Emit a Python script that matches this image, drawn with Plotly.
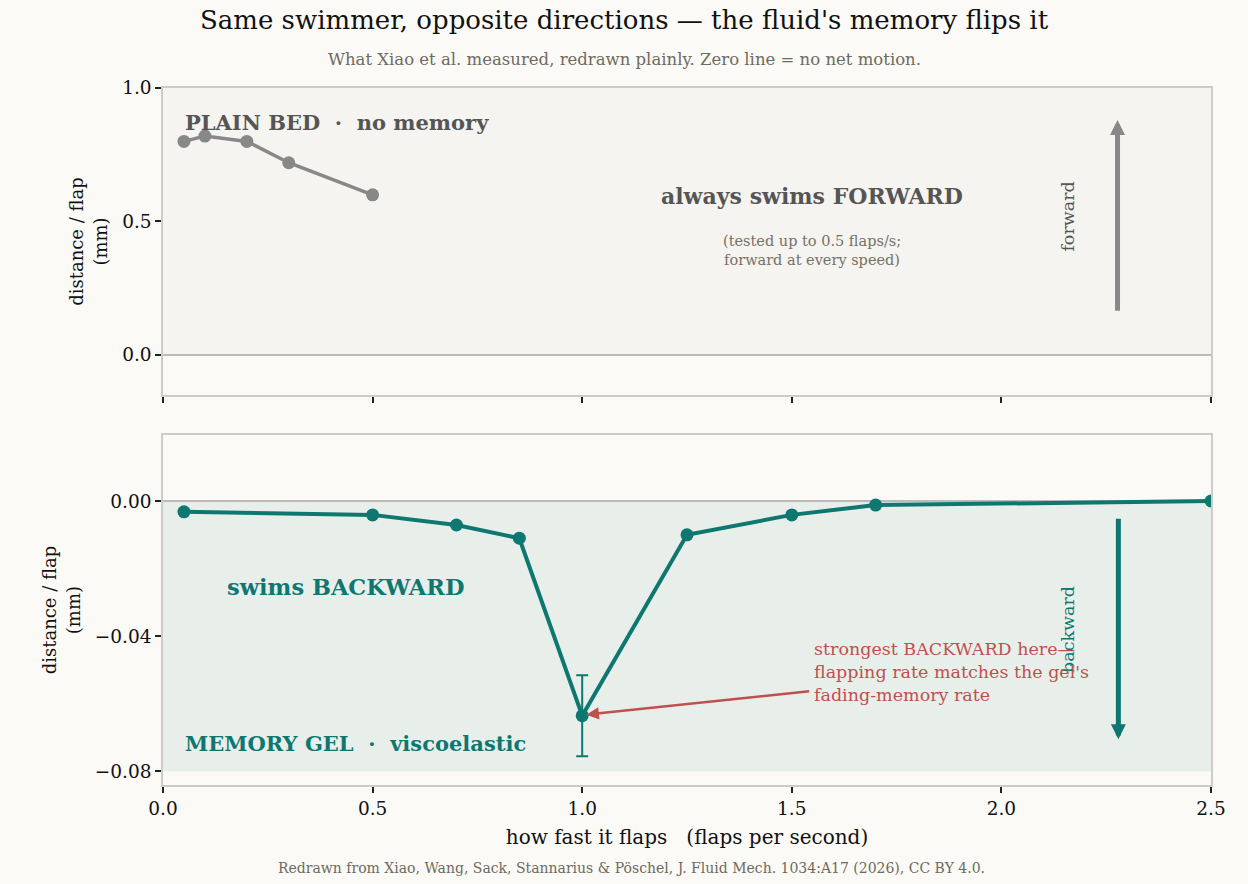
import plotly.graph_objects as go
from plotly.subplots import make_subplots

# ---- data ----
plain_x = [0.05, 0.1, 0.2, 0.3, 0.5]
plain_y = [0.80, 0.82, 0.80, 0.72, 0.60]

gel_x = [0.05, 0.5, 0.7, 0.85, 1.0, 1.25, 1.5, 1.7, 2.5]
gel_y = [-0.0032, -0.0041, -0.0071, -0.0110, -0.0635, -0.0100, -0.0041, -0.0012, 0.0]
gel_err = [0, 0, 0, 0, 0.012, 0, 0, 0, 0]

x_ticks = [0.0, 0.5, 1.0, 1.5, 2.0, 2.5]
top_y_ticks = [0.0, 0.5, 1.0]
bot_y_ticks = [0.0, -0.04, -0.08]

FONT = "Georgia, 'DejaVu Serif', serif"
BG = "#fbfaf6"
TEAL = "#0e7770"
GRAY = "#888888"
DARK = "#555555"
RED = "#c0504d"

fig = make_subplots(rows=2, cols=1, shared_xaxes=False, vertical_spacing=0.0)

fig.add_trace(go.Scatter(x=plain_x, y=plain_y, mode="lines+markers",
                         line=dict(color=GRAY, width=3.5),
                         marker=dict(color=GRAY, size=13),
                         showlegend=False, hoverinfo="skip"), row=1, col=1)

fig.add_trace(go.Scatter(x=gel_x, y=gel_y, mode="lines+markers",
                         line=dict(color=TEAL, width=4),
                         marker=dict(color=TEAL, size=13),
                         error_y=dict(type="data", array=gel_err, visible=True,
                                      color=TEAL, thickness=2, width=6),
                         showlegend=False, hoverinfo="skip"), row=2, col=1)

# shading
fig.add_shape(type="rect", xref="x", yref="y", x0=0, x1=2.5, y0=0, y1=1.0,
              fillcolor="#f5f4f0", line_width=0, layer="below")
fig.add_shape(type="rect", xref="x2", yref="y2", x0=0, x1=2.5, y0=-0.08, y1=0,
              fillcolor="#e8efeb", line_width=0, layer="below")
# zero lines
fig.add_shape(type="line", xref="x", yref="y", x0=0, x1=2.5, y0=0, y1=0,
              line=dict(color="#bbbbbb", width=2), layer="below")
fig.add_shape(type="line", xref="x2", yref="y2", x0=0, x1=2.5, y0=0, y1=0,
              line=dict(color="#bbbbbb", width=2), layer="below")

axis_common = dict(showgrid=False, zeroline=False, showline=True, linecolor="#cccccc",
                   linewidth=1.5, mirror=True, ticks="outside", ticklen=6, tickwidth=1.5,
                   tickcolor="#222222", tickfont=dict(family=FONT, size=18.5, color="#111111"))

fig.update_xaxes(range=[0, 2.5], tickvals=x_ticks, showticklabels=False,
                 domain=[0, 1], **axis_common, row=1, col=1)
fig.update_xaxes(range=[0, 2.5], tickvals=x_ticks, ticktext=[f"{v:.1f}" for v in x_ticks],
                 title=dict(text="how fast it flaps   (flaps per second)",
                            font=dict(family=FONT, size=20, color="#111111"), standoff=12),
                 **axis_common, row=2, col=1)
fig.update_yaxes(range=[-0.15, 1.0], tickvals=top_y_ticks,
                 ticktext=[f"{v:.1f}" for v in top_y_ticks],
                 title=dict(text="distance / flap<br>(mm)",
                            font=dict(family=FONT, size=18, color="#111111"), standoff=10),
                 domain=[0.5595, 1.0], **axis_common, row=1, col=1)
fig.update_yaxes(range=[-0.084, 0.0195], tickvals=bot_y_ticks,
                 ticktext=["0.00", "\u22120.04", "\u22120.08"],
                 title=dict(text="distance / flap<br>(mm)",
                            font=dict(family=FONT, size=18, color="#111111"), standoff=10),
                 domain=[0.0, 0.502], **axis_common, row=2, col=1)

ann = []
ann.append(dict(text="<b>PLAIN BED  \u00b7  no memory</b>", x=0.048, y=0.87, xref="x", yref="y",
                xanchor="left", yanchor="middle", showarrow=False,
                font=dict(family=FONT, size=21, color=DARK)))
ann.append(dict(text="<b>always swims FORWARD</b>", x=1.548, y=0.595, xref="x", yref="y",
                xanchor="center", yanchor="middle", showarrow=False,
                font=dict(family=FONT, size=22, color=DARK)))
ann.append(dict(text="(tested up to 0.5 flaps/s;<br>forward at every speed)", x=1.548, y=0.39,
                xref="x", yref="y", xanchor="center", yanchor="middle", showarrow=False,
                font=dict(family=FONT, size=14.5, color="#777166")))
ann.append(dict(text="forward", x=2.16, y=0.52, xref="x", yref="y", textangle=-90,
                xanchor="center", yanchor="middle", showarrow=False,
                font=dict(family=FONT, size=17.5, color=DARK)))
ann.append(dict(text="", x=2.277, y=0.88, ax=2.277, ay=0.16, xref="x", yref="y",
                axref="x", ayref="y", showarrow=True, arrowhead=2, arrowsize=0.6,
                arrowwidth=5, arrowcolor=GRAY))

ann.append(dict(text="<b>swims BACKWARD</b>", x=0.148, y=-0.0255, xref="x2", yref="y2",
                xanchor="left", yanchor="middle", showarrow=False,
                font=dict(family=FONT, size=22.5, color=TEAL)))
ann.append(dict(text="<b>MEMORY GEL  \u00b7  viscoelastic</b>", x=0.048, y=-0.0718, xref="x2",
                yref="y2", xanchor="left", yanchor="middle", showarrow=False,
                font=dict(family=FONT, size=21, color=TEAL)))
ann.append(dict(text="backward", x=2.16, y=-0.038, xref="x2", yref="y2", textangle=-90,
                xanchor="center", yanchor="middle", showarrow=False,
                font=dict(family=FONT, size=17.5, color=TEAL)))
ann.append(dict(text="", x=2.279, y=-0.0705, ax=2.279, ay=-0.0048, xref="x2", yref="y2",
                axref="x2", ayref="y2", showarrow=True, arrowhead=2, arrowsize=0.6,
                arrowwidth=5, arrowcolor=TEAL))
ann.append(dict(text="strongest BACKWARD here\u2014<br>flapping rate matches the gel's<br>fading-memory rate",
                x=1.548, y=-0.0505, xref="x2", yref="y2", xanchor="left", yanchor="middle",
                align="left", showarrow=False,
                font=dict(family=FONT, size=17.5, color=RED)))
ann.append(dict(text="", x=1.01, y=-0.0632, ax=1.545, ay=-0.0562, xref="x2", yref="y2",
                axref="x2", ayref="y2", showarrow=True, arrowhead=2, arrowsize=1,
                arrowwidth=2.5, arrowcolor=RED))

H_PLOT = 697.0
def py(px):
    return (785 - px) / H_PLOT
def pxx(px):
    return (px - 163) / 1048.0

ann.append(dict(text="Same swimmer, opposite directions \u2014 the fluid's memory flips it",
                x=pxx(624), y=py(20), xref="paper", yref="paper", showarrow=False,
                yanchor="middle",
                font=dict(family=FONT, size=26, color="#111111")))
ann.append(dict(text="What Xiao et al. measured, redrawn plainly. Zero line = no net motion.",
                x=pxx(624), y=py(60), xref="paper", yref="paper", showarrow=False,
                yanchor="middle",
                font=dict(family=FONT, size=16.5, color="#6e6a60")))
ann.append(dict(text="Redrawn from Xiao, Wang, Sack, Stannarius &amp; P\u00f6schel, J. Fluid Mech. 1034:A17 (2026), CC BY 4.0.",
                x=pxx(631), y=py(868), xref="paper", yref="paper", showarrow=False,
                yanchor="middle",
                font=dict(family=FONT, size=14, color="#6e6a60")))

fig.update_layout(
    width=1248, height=884,
    margin=dict(l=163, r=37, t=88, b=99),
    paper_bgcolor=BG, plot_bgcolor=BG,
    font=dict(family=FONT, color="#111111"),
    annotations=ann,
    showlegend=False,
)

fig.write_html("out.html", config={"displayModeBar": False},
               post_script="document.body.style.margin='0';document.body.style.background='#fbfaf6';document.body.style.overflow='hidden';")
